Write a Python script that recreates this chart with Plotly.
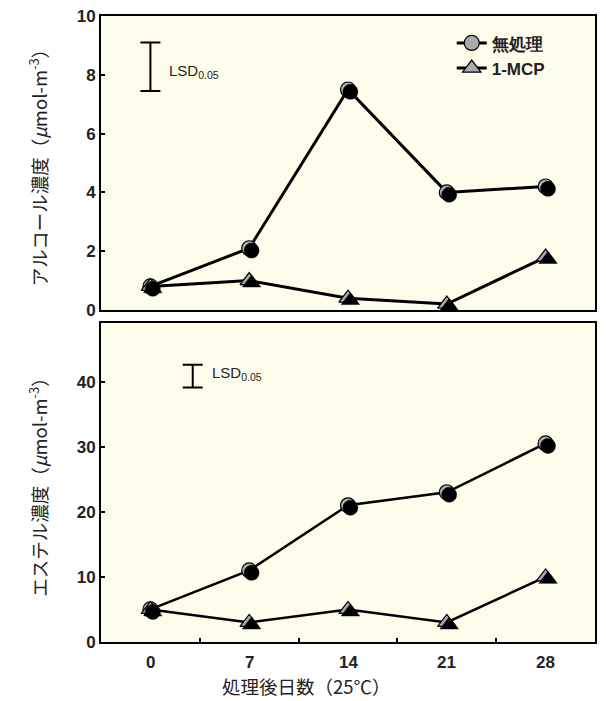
import plotly.graph_objects as go

days = [0, 7, 14, 21, 28]
alcohol_control = [0.8, 2.1, 7.5, 4.0, 4.2]
alcohol_mcp = [0.8, 1.0, 0.4, 0.2, 1.8]
ester_control = [5.0, 11.0, 21.0, 23.0, 30.5]
ester_mcp = [5.0, 3.0, 5.0, 3.0, 10.0]
tick_labels = ["0", "7", "14", "21", "28"]
series_names = ["無処理", "1-MCP"]

# LSD bars (x position, low, high)
lsd_top = (0, 7.45, 9.1)
lsd_bottom = (3, 39.1, 42.6)

BG = "#FEFCEB"
GRAY = "#A9ABB0"
FONT = "Liberation Sans, Arial, sans-serif"
JFONT = "Noto Sans CJK JP, sans-serif"

fig = go.Figure()

XR = [-3.5, 31.5]
TOP_R = [0, 10]
BOT_R = [0, 49]

# shadow offsets in data units (~2.5 px)
dx = 0.17
dy_top = 0.08
dy_bot = 0.38

def add_series(x, y, xa, ya, sx, sy, symbol, size, lw, name, showlegend):
    fig.add_trace(go.Scatter(x=x, y=y, mode="markers", xaxis=sx, yaxis=sy,
                             marker=dict(symbol=symbol, size=size, color="black",
                                         line=dict(color="black", width=0.5)),
                             showlegend=False, hoverinfo="skip"))
    fig.add_trace(go.Scatter(x=x, y=y, mode="lines+markers", xaxis=xa, yaxis=ya,
                             line=dict(color="black", width=lw),
                             marker=dict(symbol=symbol, size=size, color=GRAY,
                                         line=dict(color="black", width=1.2)),
                             name=name, showlegend=showlegend))

add_series(days, alcohol_control, "x", "y", "x3", "y3", "circle", 15, 3, series_names[0], True)
add_series(days, alcohol_mcp, "x", "y", "x3", "y3", "triangle-up", 16, 3, series_names[1], True)
add_series(days, ester_control, "x2", "y2", "x4", "y4", "circle", 15, 2.5, series_names[0], False)
add_series(days, ester_mcp, "x2", "y2", "x4", "y4", "triangle-up", 16, 2.5, series_names[1], False)

for (lx, lo, hi), xa, ya in [(lsd_top, "x", "y"), (lsd_bottom, "x2", "y2")]:
    fig.add_trace(go.Scatter(x=[lx], y=[(lo + hi) / 2], xaxis=xa, yaxis=ya, mode="markers",
                             marker=dict(size=0.1, color="black"),
                             error_y=dict(type="data", array=[(hi - lo) / 2], color="black",
                                          thickness=2, width=10),
                             showlegend=False, hoverinfo="skip"))

fig.add_annotation(x=1.2, y=8.1, xref="x", yref="y", xanchor="left", showarrow=False,
                   text="LSD<sub>0.05</sub>", font=dict(family=FONT, size=15, color="#222"))
fig.add_annotation(x=4.2, y=41.3, xref="x2", yref="y2", xanchor="left", showarrow=False,
                   text="LSD<sub>0.05</sub>", font=dict(family=FONT, size=15, color="#222"))

ax_common = dict(showline=True, linecolor="black", linewidth=2, mirror=True,
                 showgrid=False, zeroline=False, ticklen=4, automargin=False,
                 tickcolor="black", tickwidth=1.5,
                 tickfont=dict(family=FONT, size=17, color="#222", weight="bold"))

fig.update_layout(
    width=606, height=701,
    margin=dict(l=101, r=11, t=16, b=59),
    paper_bgcolor="white", plot_bgcolor=BG,
    xaxis=dict(domain=[0, 1], range=XR, anchor="y", showticklabels=False, ticks="",
               **ax_common),
    yaxis=dict(domain=[0.5304, 1.0], range=TOP_R, anchor="x", dtick=2, tick0=0, ticks="inside",
               title=dict(text="アルコール濃度（<i>μ</i>mol-m<sup>-3</sup>）", standoff=24,
                          font=dict(family=JFONT, size=18.5, color="#222")),
               **ax_common),
    xaxis2=dict(domain=[0, 1], range=XR, anchor="y2", tickvals=[3.5, 10.5, 17.5, 24.5],
                showticklabels=False, ticks="inside", **ax_common),
    yaxis2=dict(domain=[0, 0.5096], range=BOT_R, anchor="x2", tickvals=[0, 10, 20, 30, 40],
                ticks="inside",
                title=dict(text="エステル濃度（<i>μ</i>mol-m<sup>-3</sup>）", standoff=24,
                           font=dict(family=JFONT, size=18.5, color="#222")),
                **ax_common),
    xaxis3=dict(overlaying="x", range=[XR[0] - dx, XR[1] - dx], visible=False, anchor="y3"),
    yaxis3=dict(overlaying="y", range=[TOP_R[0] + dy_top, TOP_R[1] + dy_top], visible=False, anchor="x3"),
    xaxis4=dict(overlaying="x2", range=[XR[0] - dx, XR[1] - dx], visible=False, anchor="y4"),
    yaxis4=dict(overlaying="y2", range=[BOT_R[0] + dy_bot, BOT_R[1] + dy_bot], visible=False, anchor="x4"),
    legend=dict(x=0.71, y=0.985, xanchor="left", yanchor="top", bgcolor="rgba(0,0,0,0)",
                font=dict(family=FONT, size=17, color="#222", weight="bold"),
                itemwidth=30, tracegroupgap=8),
    showlegend=True,
)

for d, lab in zip(days, tick_labels):
    fig.add_annotation(x=d, y=0, xref="x2", yref="paper", yshift=-9, yanchor="top",
                       showarrow=False, text=lab,
                       font=dict(family=FONT, size=17, color="#222", weight="bold"))

fig.add_annotation(x=0.415, y=0, xref="paper", yref="paper", yshift=-59, yanchor="bottom",
                   showarrow=False, text="処理後日数（25℃）",
                   font=dict(family=JFONT, size=18.5, color="#222"))

fig.write_html("out.html", config={"displayModeBar": False},
               post_script="document.body.style.margin='0';document.body.style.padding='0';document.body.style.overflow='hidden';")
